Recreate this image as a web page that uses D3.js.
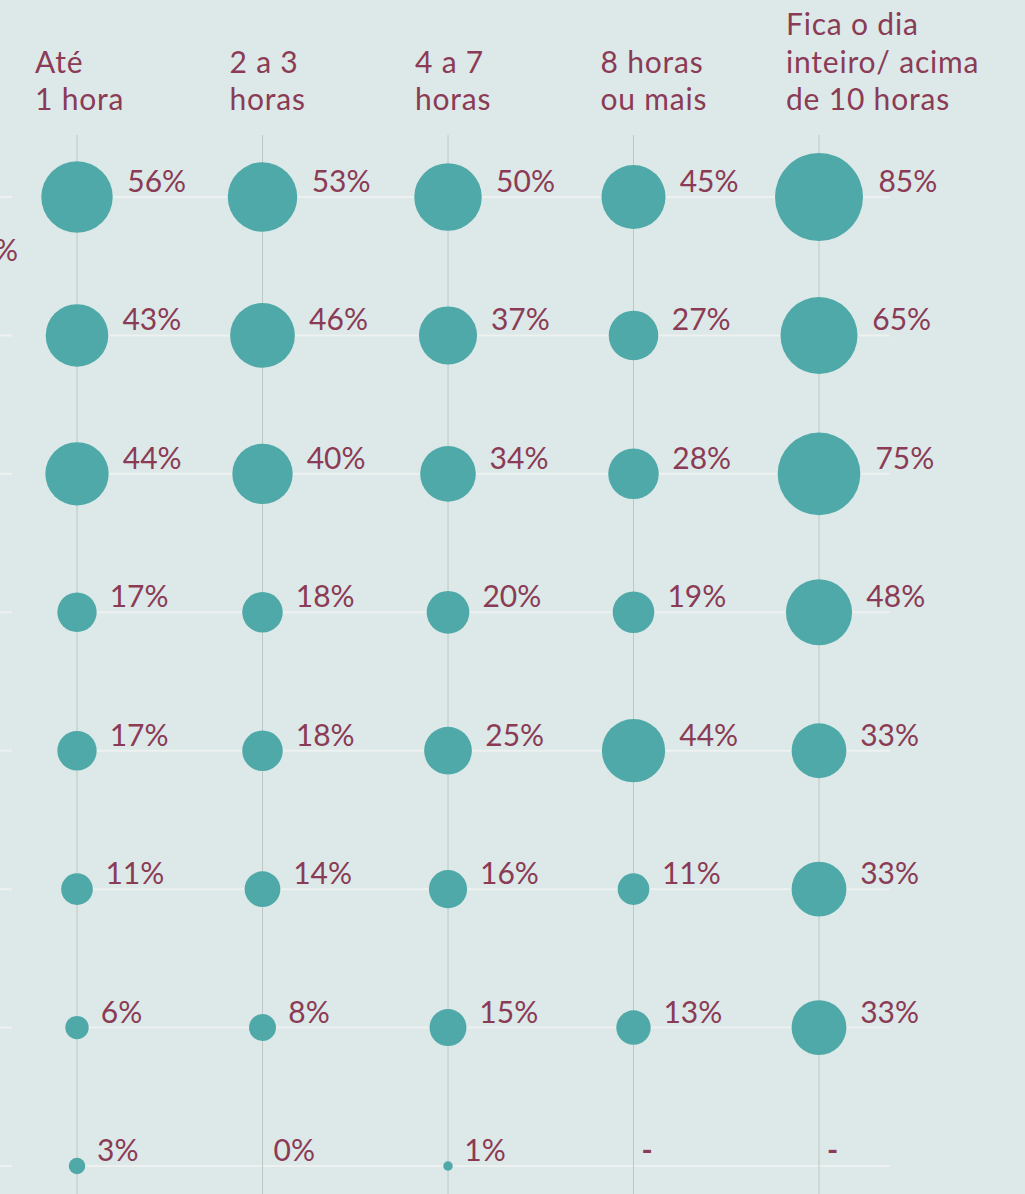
<!DOCTYPE html>
<html>
<head>
<meta charset="utf-8">
<script src="https://cdn.jsdelivr.net/npm/d3@7"></script>
<style>
  html, body { margin: 0; padding: 0; background: #dce9e8; }
  svg { display: block; }
</style>
</head>
<body>
<div id="chart"></div>
<script>
// column headers (time spent online)
var categories = [
    ["Até", "1 hora"],
    ["2 a 3", "horas"],
    ["4 a 7", "horas"],
    ["8 horas", "ou mais"],
    ["Fica o dia", "inteiro/ acima", "de 10 horas"]
];

// one array per row, values in %, null = "-"
var row1 = [56, 53, 50, 45, 85];
var row2 = [43, 46, 37, 27, 65];
var row3 = [44, 40, 34, 28, 75];
var row4 = [17, 18, 20, 19, 48];
var row5 = [17, 18, 25, 44, 33];
var row6 = [11, 14, 16, 11, 33];
var row7 = [6, 8, 15, 13, 33];
var row8 = [3, 0, 1, null, null];

var rows = [row1, row2, row3, row4, row5, row6, row7, row8];

var w = 1025;
var h = 1194;
var teal = "#4fa9a8";
var wine = "#8b3b55";
var font = "Lato, 'Open Sans', sans-serif";

var svg = d3.select("#chart")
            .append("svg")
            .attr("width", w)
            .attr("height", h);

svg.append("rect")
   .attr("width", w)
   .attr("height", h)
   .attr("fill", "#dce9e8");

var x = d3.scalePoint()
          .domain(d3.range(categories.length))
          .range([77, 819]);

var y = d3.scalePoint()
          .domain(d3.range(rows.length))
          .range([197, 1166]);

var r = d3.scaleSqrt()
          .domain([0, 85])
          .range([0, 44]);

// horizontal rules (stub at the left comes from the cropped part)
var hl = svg.append("g");
hl.selectAll("line.stub")
  .data(rows)
  .enter()
  .append("line")
  .attr("class", "stub")
  .attr("x1", -20).attr("x2", 12)
  .attr("y1", function(d, i) { return y(i); })
  .attr("y2", function(d, i) { return y(i); })
  .attr("stroke", "#eef1f0")
  .attr("stroke-width", 2);
hl.selectAll("line.rule")
  .data(rows)
  .enter()
  .append("line")
  .attr("class", "rule")
  .attr("x1", x(0)).attr("x2", 890)
  .attr("y1", function(d, i) { return y(i); })
  .attr("y2", function(d, i) { return y(i); })
  .attr("stroke", "#eef1f0")
  .attr("stroke-width", 2);

// vertical rules
svg.append("g").selectAll("line")
   .data(categories)
   .enter()
   .append("line")
   .attr("x1", function(d, i) { return x(i); })
   .attr("x2", function(d, i) { return x(i); })
   .attr("y1", 135)
   .attr("y2", h)
   .attr("stroke", "#bfc6c6")
   .attr("stroke-width", 1);

// headers
var heads = svg.append("g").selectAll("text")
   .data(categories)
   .enter()
   .append("text")
   .attr("font-family", font)
   .attr("font-size", "30px")
   .attr("letter-spacing", "0.8px")
   .attr("fill", wine)
   .attr("transform", function(d, i) {
       var tx = x(i) - (i === 0 ? 42 : 33);
       var ty = 110 - (d.length - 1) * 37.5;
       return "translate(" + tx + "," + ty + ")";
   });
heads.selectAll("tspan")
   .data(function(d) { return d; })
   .enter()
   .append("tspan")
   .attr("x", 0)
   .attr("dy", function(d, i) { return i === 0 ? 0 : 37.5; })
   .text(function(d) { return d; });

// cropped label from the left part of the table
svg.append("text")
   .attr("x", 18)
   .attr("y", 261)
   .attr("text-anchor", "end")
   .attr("font-family", font)
   .attr("font-size", "30px")
   .attr("fill", wine)
   .text("%");

// cells
var cells = [];
rows.forEach(function(row, ri) {
    row.forEach(function(v, ci) {
        cells.push({ row: ri, col: ci, value: v });
    });
});

svg.append("g").selectAll("circle")
   .data(cells.filter(function(d) { return d.value; }))
   .enter()
   .append("circle")
   .attr("cx", function(d) { return x(d.col); })
   .attr("cy", function(d) { return y(d.row); })
   .attr("r", function(d) { return r(d.value); })
   .attr("fill", teal);

svg.append("g").selectAll("text")
   .data(cells)
   .enter()
   .append("text")
   .attr("x", function(d) { return x(d.col) + r(d.value || 0) * 1.1 + (d.value === null ? 8 : 11); })
   .attr("y", function(d) { return y(d.row) - 5; })
   .attr("font-family", font)
   .attr("font-size", "30px")
   .attr("font-weight", function(d) { return d.value === null ? "bold" : "normal"; })
   .attr("fill", wine)
   .text(function(d) { return d.value === null ? "-" : d.value + "%"; });
</script>
</body>
</html>
